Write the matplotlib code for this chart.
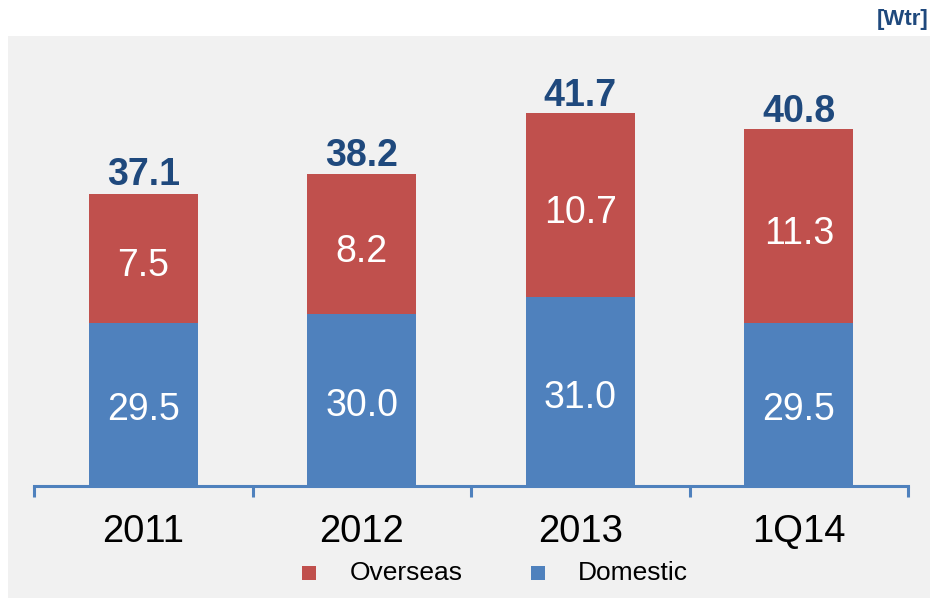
import matplotlib.pyplot as plt
from matplotlib.patches import Rectangle
import numpy as np

categories = ["2011", "2012", "2013", "1Q14"]
domestic = [29.5, 30.0, 31.0, 29.5]
overseas = [7.5, 8.2, 10.7, 11.3]
totals = [37.1, 38.2, 41.7, 40.8]
unit_label = "[Wtr]"

BLUE = "#4f81bd"
RED = "#c0504d"
NAVY = "#1f497d"
BG = "#f1f1f1"

plt.rcParams['font.family'] = ['Liberation Sans', 'DejaVu Sans']

W, H = 930, 598
fig = plt.figure(figsize=(W / 100, H / 100), dpi=100)
bgrect = Rectangle((8 / W, 0), 1 - 8 / W, (598 - 36) / H,
                   transform=fig.transFigure, facecolor=BG,
                   edgecolor='none', zorder=-10)
fig.patches.append(bgrect)

ax_left, ax_right = 34 / W, 908 / W
ax_bottom, ax_top = (H - 486) / H, (H - 36) / H
ax = fig.add_axes([ax_left, ax_bottom, ax_right - ax_left, ax_top - ax_bottom])
ax.set_facecolor('none')
ax.set_zorder(1)

ymin = 20.0
ymax = ymin + (486 - 36) / 17.17
x = np.arange(len(categories))
bw = 0.5
ax.bar(x, domestic, bw, color=BLUE, zorder=2)
ax.bar(x, overseas, bw, bottom=domestic, color=RED, zorder=2)
ax.set_xlim(-0.5, len(categories) - 0.5)
ax.set_ylim(ymin, ymax)

for i in range(len(categories)):
    ax.text(x[i], (ymin + domestic[i]) / 2 - 0.35, f"{domestic[i]:.1f}",
            ha='center', va='center', color='white', fontsize=27, zorder=3)
    ax.text(x[i], domestic[i] + overseas[i] / 2 - 0.45, f"{overseas[i]:.1f}",
            ha='center', va='center', color='white', fontsize=27, zorder=3)
    ax.text(x[i], totals[i] - 0.05, f"{totals[i]:.1f}",
            ha='center', va='bottom', color=NAVY, fontsize=27, fontweight='bold', zorder=3)

for s in ['top', 'right', 'left']:
    ax.spines[s].set_visible(False)
ax.spines['bottom'].set_color(BLUE)
ax.spines['bottom'].set_linewidth(2.2)
ax.set_yticks([])
ax.set_xticks(x)
ax.set_xticklabels(categories, fontsize=27.5)
ax.tick_params(axis='x', which='major', length=0, pad=20)
ax.set_xticks(np.arange(-0.5, len(categories), 1.0), minor=True)
ax.tick_params(axis='x', which='minor', length=8, width=2.2, color=BLUE, direction='out')

# legend
fig.patches.append(Rectangle((302 / W, (H - 580) / H), 14 / W, 14 / H,
                             transform=fig.transFigure, facecolor=RED, edgecolor='none'))
fig.text(350 / W, (H - 573) / H, "Overseas", fontsize=19, va='center', ha='left')
fig.patches.append(Rectangle((531 / W, (H - 580) / H), 14 / W, 14 / H,
                             transform=fig.transFigure, facecolor=BLUE, edgecolor='none'))
fig.text(578 / W, (H - 573) / H, "Domestic", fontsize=19, va='center', ha='left')

fig.text(928 / W, (H - 20) / H, unit_label, fontsize=16, fontweight='bold',
         color=NAVY, ha='right', va='center')

fig.savefig("out.png", dpi=100)
